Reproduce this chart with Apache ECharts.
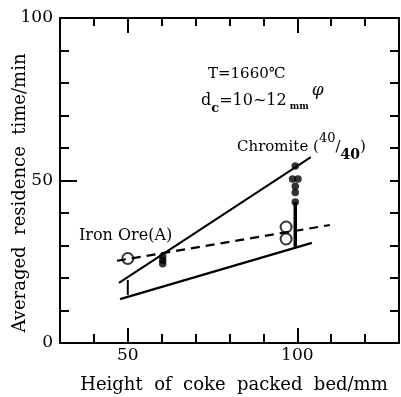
<!DOCTYPE html>
<html><head><meta charset="utf-8">
<script src="https://cdn.jsdelivr.net/npm/echarts@6/dist/echarts.min.js"></script>
<style>html,body{margin:0;padding:0;background:#fff}#c{width:401px;height:397px}</style>
</head><body><div id="c"></div>
<script>
// axis settings
const xMin = 30, xMax = 130;
const yMin = 0, yMax = 100;
const xMajor = [50, 100];
const xMinor = [40, 60, 70, 80, 90, 110, 120];
const yMajor = [50];
const yMinor = [10, 20, 30, 40, 60, 70, 80, 90];
const yLabels = [0, 50, 100];

// data
const upperLine = [[47.4, 18.5], [104, 57.2]];
const lowerLine = [[47.7, 13.5], [104.3, 30.8]];
const ironOreLine = [[46.8, 25.3], [109.6, 36.3]];
const ironOrePoints = [[50, 26], [96.7, 35.7], [96.7, 32.0]];
const chromitePoints = [[60.3, 26.6], [60.3, 25.5], [60.3, 24.4],
  [99.4, 54.5], [98.6, 50.5], [100.2, 50.5], [99.4, 48.2], [99.4, 46.3], [99.4, 43.4]];
const rangeBar50 = [[50, 19.4], [50, 14.8]];
const rangeBar100 = [[99.4, 43.4], [99.4, 29.6]];

const FONT = 'DejaVu Serif';
const black = '#000';

function xAx(pos, ticks, len, showLine, labels) {
  return {
    type: 'value', position: pos, min: xMin, max: xMax, interval: 10,
    axisLine: {show: showLine, onZero: false, lineStyle: {color: black, width: 2}},
    axisTick: {show: true, inside: true, length: len, customValues: ticks, lineStyle: {color: black, width: 2}},
    axisLabel: labels ? {show: true, customValues: labels, color: black, fontFamily: FONT, fontSize: 17, margin: 4} : {show: false},
    splitLine: {show: false}
  };
}
function yAx(pos, ticks, len, showLine, labels) {
  return {
    type: 'value', position: pos, min: yMin, max: yMax, interval: 10,
    axisLine: {show: showLine, onZero: false, lineStyle: {color: black, width: 2}},
    axisTick: {show: true, inside: true, length: len, customValues: ticks, lineStyle: {color: black, width: 2}},
    axisLabel: labels ? {show: true, customValues: labels, color: black, fontFamily: FONT, fontSize: 17, margin: 7} : {show: false},
    splitLine: {show: false}
  };
}

const chart = echarts.init(document.getElementById('c'), null, {renderer: 'canvas'});
chart.setOption({
  animation: false,
  backgroundColor: '#fff',
  grid: {left: 60, right: 2, top: 18, bottom: 54},
  xAxis: [
    xAx('bottom', xMajor, 15, true, xMajor),
    xAx('bottom', xMinor, 9, false, null),
    xAx('top', xMajor, 15, true, null),
    xAx('top', xMinor, 8, false, null)
  ],
  yAxis: [
    yAx('left', yMajor, 17, true, yLabels),
    yAx('left', yMinor, 9, false, null),
    yAx('right', yMinor.concat(yMajor), 9, true, null)
  ],
  series: [
    {type: 'line', data: upperLine, symbol: 'none', lineStyle: {color: black, width: 2}},
    {type: 'line', data: lowerLine, symbol: 'none', lineStyle: {color: black, width: 2.2}},
    {type: 'line', data: ironOreLine, symbol: 'none', lineStyle: {color: black, width: 2.2, type: [9, 6]}},
    {type: 'line', data: rangeBar50, symbol: 'none', lineStyle: {color: black, width: 2}},
    {type: 'line', data: rangeBar100, symbol: 'none', lineStyle: {color: black, width: 3.5}},
    {type: 'scatter', data: chromitePoints, symbol: 'circle', symbolSize: 7.5, itemStyle: {color: black}},
    {type: 'scatter', data: ironOrePoints, symbol: 'circle', symbolSize: 11,
      itemStyle: {color: '#fff', borderColor: black, borderWidth: 2}}
  ],
  graphic: [
    {type: 'text', x: 20, y: 193, rotation: Math.PI / 2,
      style: {text: 'Averaged  residence  time/min', font: '18px "DejaVu Serif"', fill: black,
        textAlign: 'center', textVerticalAlign: 'middle'}},
    {type: 'text', x: 234, y: 385,
      style: {text: 'Height  of  coke  packed  bed/mm', font: '18px "DejaVu Serif"', fill: black,
        textAlign: 'center', textVerticalAlign: 'middle'}},
    {type: 'text', x: 208, y: 74,
      style: {text: 'T=1660℃', font: '15px "DejaVu Serif"', fill: black, textVerticalAlign: 'middle'}},
    {type: 'text', x: 201, y: 90,
      style: {text: '{a|d}{s|c}{a|=10~12}{m|mm}{p|φ}', fill: black,
        rich: {
          a: {fontFamily: FONT, fontSize: 16, verticalAlign: 'top', height: 22},
          s: {fontFamily: FONT, fontSize: 13, fontWeight: 'bold', padding: [8, 0, 0, 0], verticalAlign: 'top', height: 22},
          m: {fontFamily: FONT, fontSize: 9, fontWeight: 'bold', padding: [6, 3, 0, 3], verticalAlign: 'top', height: 22},
          p: {fontFamily: FONT, fontSize: 17, fontStyle: 'italic', padding: [-10, 0, 0, 0], verticalAlign: 'top', height: 22}
        }}},
    {type: 'text', x: 237, y: 134,
      style: {text: '{a|Chromite (}{u|40}{a|/}{d|40}{a|)}', fill: black,
        rich: {
          a: {fontFamily: FONT, fontSize: 15, verticalAlign: 'top', height: 22, padding: [2, 0, 0, 0]},
          u: {fontFamily: FONT, fontSize: 13, verticalAlign: 'top', height: 22, padding: [-6, 0, 0, 0]},
          d: {fontFamily: FONT, fontSize: 14, fontWeight: 'bold', verticalAlign: 'top', height: 22, padding: [10, 0, 0, 0]}
        }}},
    {type: 'text', x: 79, y: 236,
      style: {text: 'Iron Ore(A)', font: '16px "DejaVu Serif"', fill: black, textVerticalAlign: 'middle'}}
  ]
});
</script></body></html>
